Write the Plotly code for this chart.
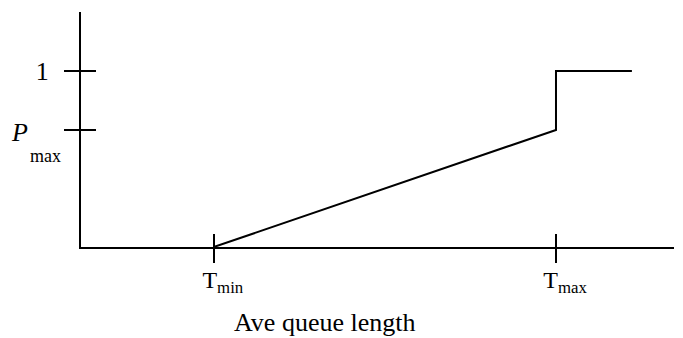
import plotly.graph_objects as go

# ---- data (schematic RED drop-probability curve) ----
T_MIN = 22.4          # minimum threshold (queue length units)
T_MAX = 80.1          # maximum threshold
Q_END = 92.9          # end of drawn curve
P_MAX = 0.665         # max drop probability before T_max

queue_len = [T_MIN, T_MAX, T_MAX, Q_END]
drop_prob = [0.0, P_MAX, 1.0, 1.0]

x_tick_vals = [T_MIN, T_MAX]
x_tick_text = ["T<sub>min</sub>", "T<sub>max</sub>"]
y_tick_vals = [P_MAX, 1.0]
y_tick_text = ["", "1"]

X_RANGE = [0, 100]
Y_RANGE = [0, 1.335]

FONT = "Liberation Serif, Times New Roman, serif"

fig = go.Figure()
fig.add_trace(go.Scatter(x=queue_len, y=drop_prob, mode="lines",
                         line=dict(color="black", width=2),
                         hoverinfo="skip", showlegend=False))
# invisible copy on the overlay axes (so inner half of crossing ticks is drawn)
fig.add_trace(go.Scatter(x=queue_len, y=drop_prob, mode="lines",
                         xaxis="x2", yaxis="y2", opacity=0,
                         line=dict(color="black", width=0),
                         hoverinfo="skip", showlegend=False))

common = dict(showgrid=False, zeroline=False, tickcolor="black", tickwidth=2,
              automargin=False)

# the page body has an 8px default margin, so the figure is 8px smaller
fig.update_layout(
    width=675, height=330,
    margin=dict(l=73, r=9, t=4, b=91),
    paper_bgcolor="white", plot_bgcolor="white",
    font=dict(family=FONT, color="black"),
    xaxis=dict(range=X_RANGE, showline=True, linecolor="black", linewidth=2,
               ticks="outside", ticklen=14, tickvals=x_tick_vals,
               ticktext=x_tick_text, ticklabelstandoff=-4, ticklabelshift=9,
               tickfont=dict(family=FONT, size=24, color="black"),
               **common),
    yaxis=dict(range=Y_RANGE, showline=True, linecolor="black", linewidth=2,
               ticks="outside", ticklen=15, tickvals=y_tick_vals,
               ticktext=y_tick_text, ticklabelstandoff=10,
               tickfont=dict(family=FONT, size=26, color="black"),
               **common),
    xaxis2=dict(range=X_RANGE, overlaying="x", anchor="y2", side="bottom",
                ticks="inside", ticklen=13, tickvals=x_tick_vals,
                showticklabels=False, showline=False, **common),
    yaxis2=dict(range=Y_RANGE, overlaying="y", anchor="x2", side="left",
                ticks="inside", ticklen=15, tickvals=y_tick_vals,
                showticklabels=False, showline=False, **common),
)

fig.add_annotation(text="<i>P</i>", xref="paper", yref="y", x=-0.086, y=P_MAX,
                   yshift=-3, xanchor="right", yanchor="middle", showarrow=False,
                   font=dict(family=FONT, size=26, color="black"))
fig.add_annotation(text="max", xref="paper", yref="y", x=-0.089, y=P_MAX,
                   yshift=-26, xanchor="left", yanchor="middle", showarrow=False,
                   font=dict(family=FONT, size=18, color="black"))
fig.add_annotation(text="Ave queue length", xref="paper", yref="paper",
                   x=0.411, y=-0.252, xanchor="center", yanchor="top",
                   showarrow=False, font=dict(family=FONT, size=26, color="black"))

fig.write_html("out.html")
